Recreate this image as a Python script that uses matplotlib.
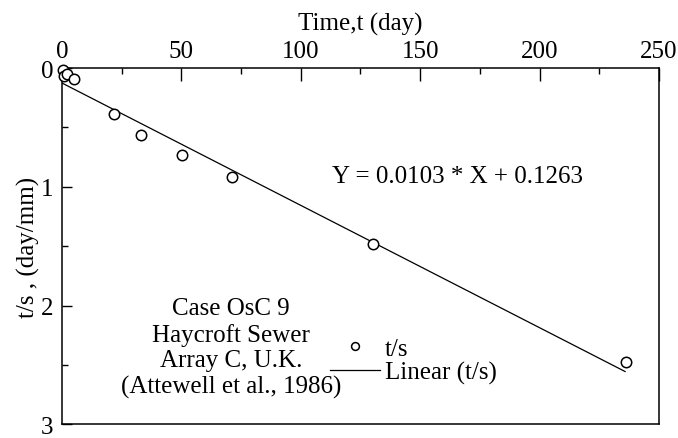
import numpy as np
import matplotlib
matplotlib.use("Agg")
import matplotlib.pyplot as plt
from matplotlib.ticker import MultipleLocator

# datos
dias = [0.3, 1.0, 2.0, 4.9, 21.9, 33.1, 50.1, 71.1, 130.1, 236.0]
t_s = [0.02, 0.07, 0.05, 0.09, 0.385, 0.565, 0.73, 0.915, 1.485, 2.475]

# ajuste lineal mostrado en la figura
pendiente = 0.0103
ordenada = 0.1263
x_ajuste = [0, 235.8]

ecuacion = "Y = 0.0103 * X + 0.1263"
caso = "Case OsC 9\nHaycroft Sewer\nArray C, U.K.\n(Attewell et al., 1986)"

plt.rcParams['font.family'] = ['Liberation Serif', 'DejaVu Serif']
fs = 18

fig = plt.figure(figsize=(6.78, 4.39), dpi=100)
ax = fig.add_axes([0.0914, 0.031, 0.8806, 0.8118])

y_ajuste = [pendiente * x + ordenada for x in x_ajuste]
ax.plot(x_ajuste, y_ajuste, color="black", linewidth=0.9, label="Linear (t/s)")
ax.plot(dias, t_s, linestyle="none", marker="o", markersize=7.5,
        markerfacecolor="white", markeredgecolor="black", markeredgewidth=1.1,
        label="t/s", clip_on=False, zorder=3)

ax.set_xlim(0, 250)
ax.set_ylim(3, 0)
ax.xaxis.set_major_locator(MultipleLocator(50))
ax.xaxis.set_minor_locator(MultipleLocator(25))
ax.yaxis.set_major_locator(MultipleLocator(1))
ax.yaxis.set_minor_locator(MultipleLocator(0.5))
ax.xaxis.tick_top()
ax.xaxis.set_label_position("top")
ax.tick_params(which="both", direction="in", labelsize=fs, top=True, bottom=False,
               left=True, right=False, width=1)
ax.tick_params(axis="x", which="major", length=9, pad=4)
ax.tick_params(axis="x", which="minor", length=4.5)
ax.tick_params(axis="y", which="major", length=7.5, pad=6)
ax.tick_params(axis="y", which="minor", length=4)
for s in ax.spines.values():
    s.set_linewidth(1.1)

ax.set_xlabel("Time,t (day)", fontsize=fs, labelpad=8)
ax.set_ylabel("t/s , (day/mm)", fontsize=fs, labelpad=1)

ax.text(0.662, 0.696, ecuacion, transform=ax.transAxes, fontsize=fs,
        ha="center", va="center")
ax.text(0.283, 0.215, caso, transform=ax.transAxes, fontsize=fs,
        ha="center", va="center", linespacing=1.2)

h, l = ax.get_legend_handles_labels()
ax.legend(h[::-1], l[::-1], loc="upper left", bbox_to_anchor=(0.449, 0.245),
          frameon=False, fontsize=fs, handlelength=2.0, handletextpad=0.2,
          borderpad=0, borderaxespad=0, labelspacing=0.05, markerscale=0.75)

fig.savefig("out.png", dpi=100)
